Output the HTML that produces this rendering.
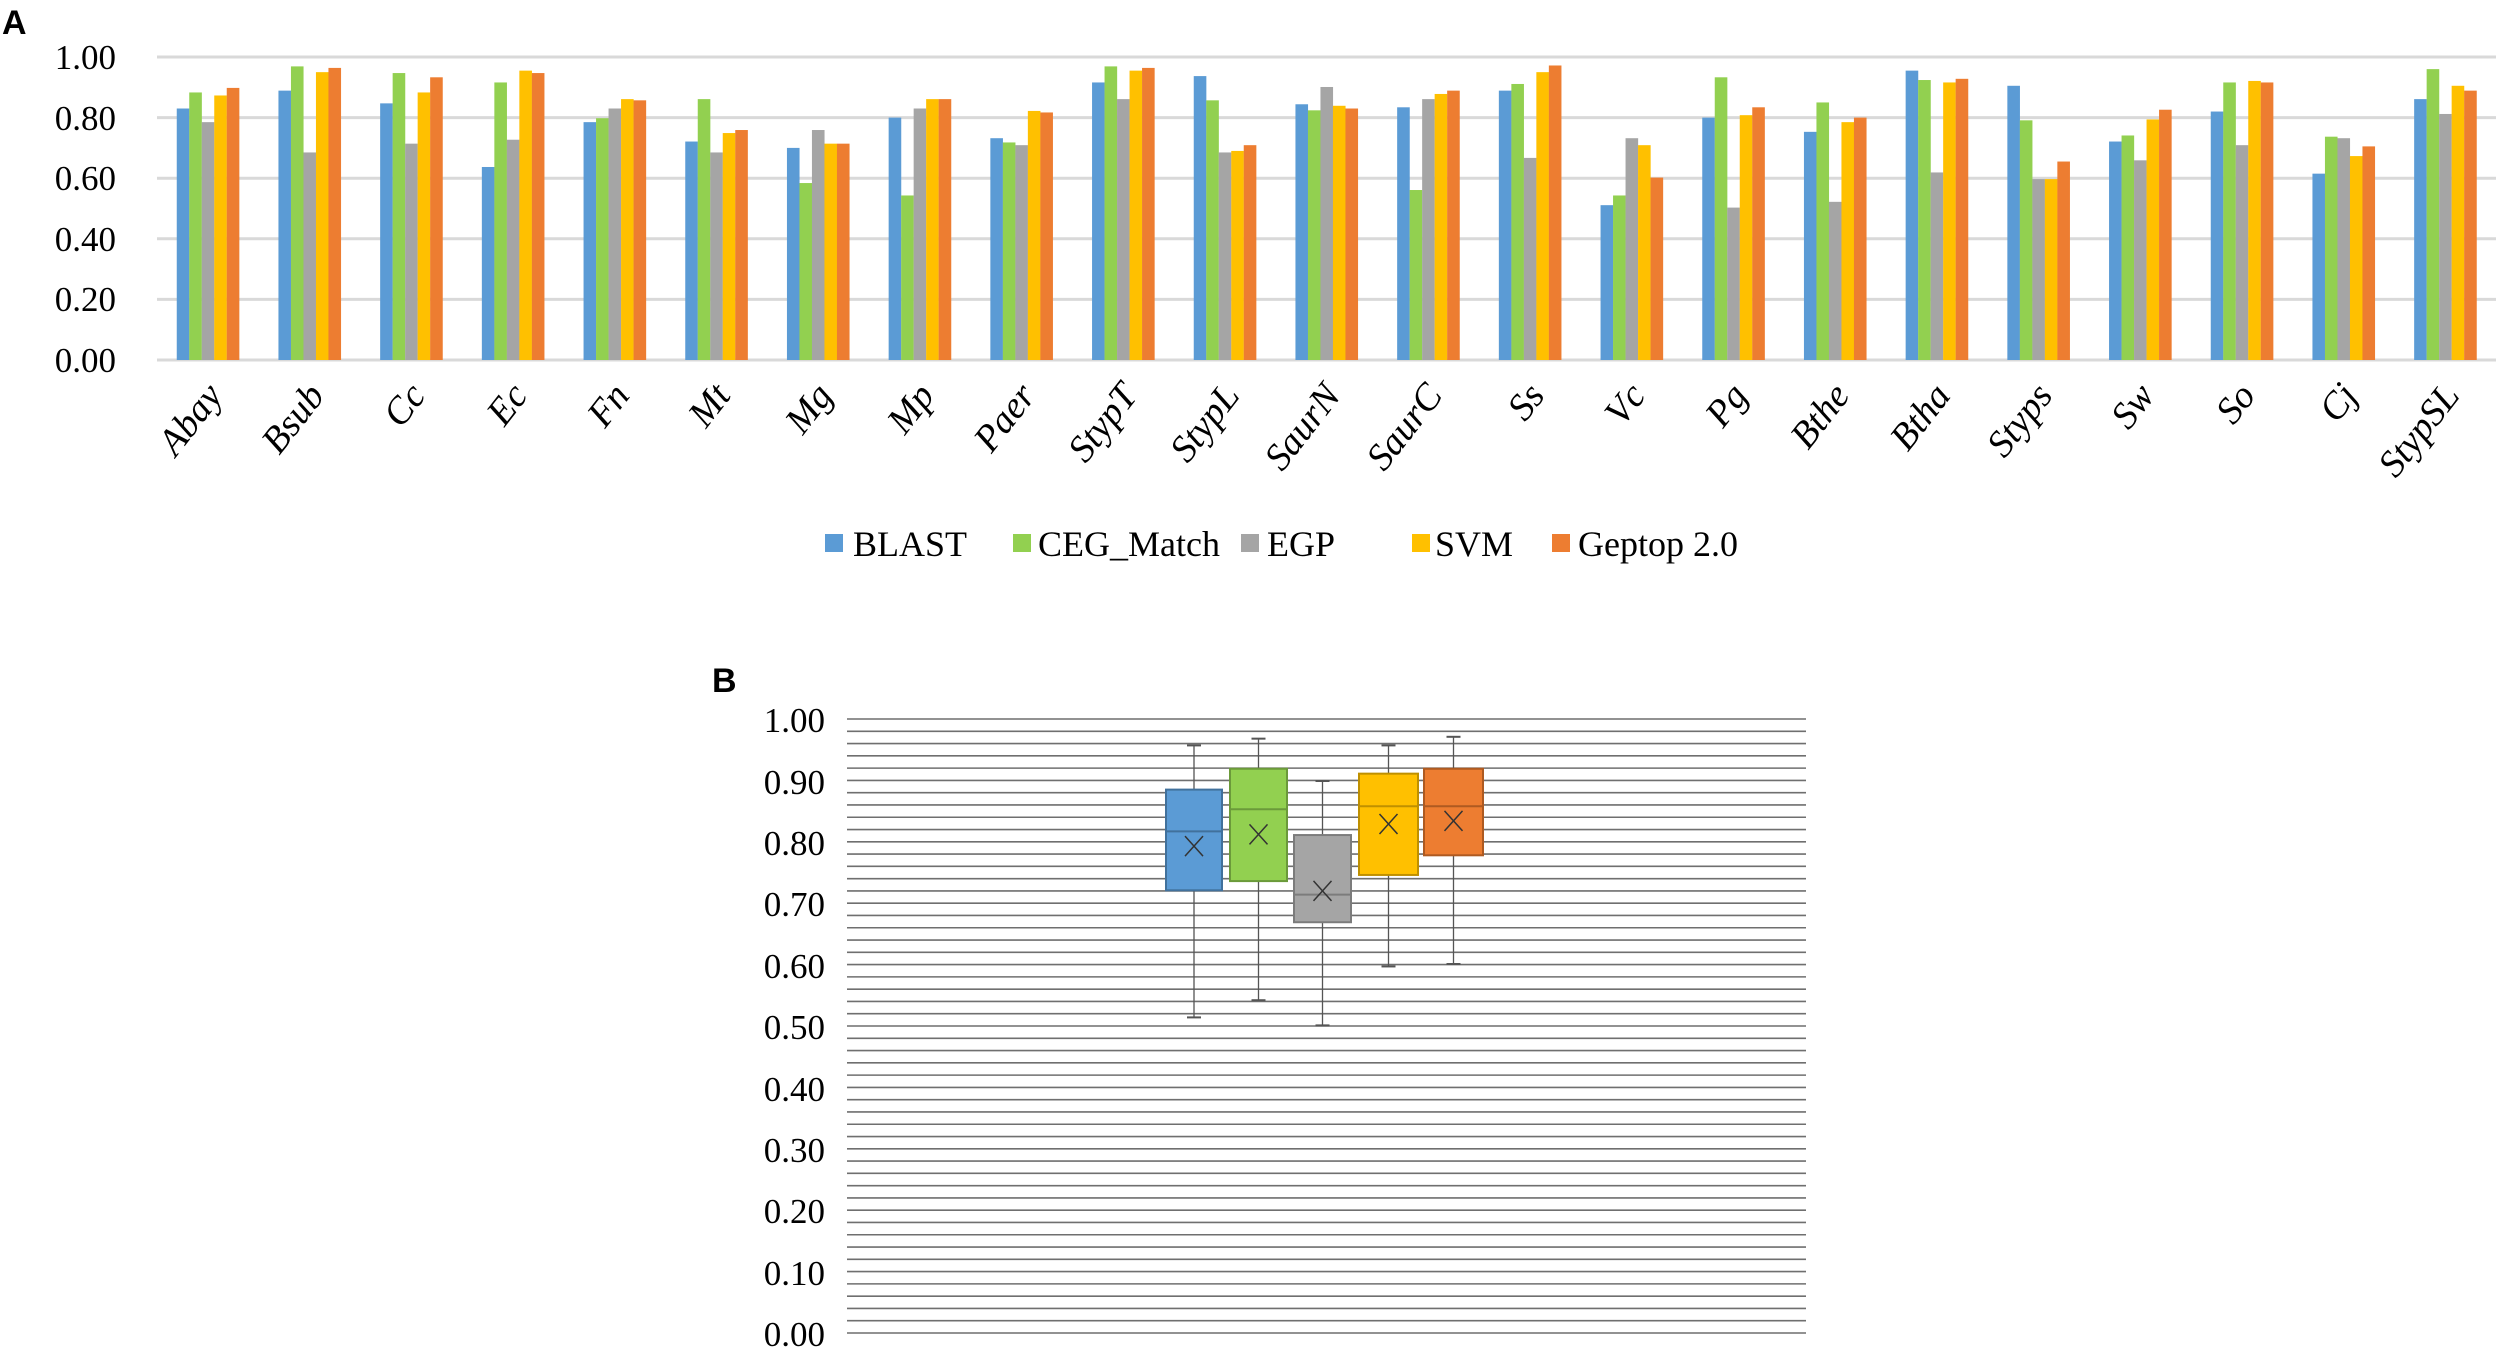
<!DOCTYPE html>
<html><head><meta charset="utf-8"><style>
html,body{margin:0;padding:0;background:#fff;}
svg{display:block;}
text{font-family:"Liberation Serif",serif;fill:#000;}
</style></head><body>
<svg id="s" width="2500" height="1353" viewBox="0 0 2500 1353" xmlns="http://www.w3.org/2000/svg">
<rect width="2500" height="1353" fill="#fff"/>
<text x="2" y="34" style="font-family:'Liberation Sans',sans-serif;font-weight:bold;font-size:34px">A</text>
<text x="712" y="692" style="font-family:'Liberation Sans',sans-serif;font-weight:bold;font-size:34px">B</text>
<g id="gA"></g>
<g font-size="35" text-anchor="end">
<text x="116" y="69">1.00</text>
<text x="116" y="130">0.80</text>
<text x="116" y="190">0.60</text>
<text x="116" y="251">0.40</text>
<text x="116" y="311">0.20</text>
<text x="116" y="372">0.00</text>
</g>
<g id="xl" font-size="38" font-style="italic" text-anchor="end">
<text transform="translate(224,396) rotate(-52)">Abay</text>
<text transform="translate(326,396) rotate(-52)">Bsub</text>
<text transform="translate(427,396) rotate(-52)">Cc</text>
<text transform="translate(529,396) rotate(-52)">Ec</text>
<text transform="translate(631,396) rotate(-52)">Fn</text>
<text transform="translate(732,396) rotate(-52)">Mt</text>
<text transform="translate(834,396) rotate(-52)">Mg</text>
<text transform="translate(936,396) rotate(-52)">Mp</text>
<text transform="translate(1037,396) rotate(-52)">Paer</text>
<text transform="translate(1139,396) rotate(-52)">StypT</text>
<text transform="translate(1241,396) rotate(-52)">StypL</text>
<text transform="translate(1342,396) rotate(-52)">SaurN</text>
<text transform="translate(1444,396) rotate(-52)">SaurC</text>
<text transform="translate(1546,396) rotate(-52)">Ss</text>
<text transform="translate(1647,396) rotate(-52)">Vc</text>
<text transform="translate(1749,396) rotate(-52)">Pg</text>
<text transform="translate(1851,396) rotate(-52)">Bthe</text>
<text transform="translate(1952,396) rotate(-52)">Btha</text>
<text transform="translate(2054,396) rotate(-52)">Styps</text>
<text transform="translate(2156,396) rotate(-52)">Sw</text>
<text transform="translate(2257,396) rotate(-52)">So</text>
<text transform="translate(2359,396) rotate(-52)">Cj</text>
<text transform="translate(2461,396) rotate(-52)">StypSL</text>
</g>
<g font-size="36">
<rect x="825" y="534" width="18" height="18" fill="#5b9bd5"/><text x="853" y="556">BLAST</text>
<rect x="1013" y="534" width="18" height="18" fill="#92d050"/><text x="1038" y="556">CEG_Match</text>
<rect x="1241" y="534" width="18" height="18" fill="#a5a5a5"/><text x="1267" y="556">EGP</text>
<rect x="1412" y="534" width="18" height="18" fill="#ffc000"/><text x="1435" y="556">SVM</text>
<rect x="1552" y="534" width="18" height="18" fill="#ed7d31"/><text x="1578" y="556">Geptop 2.0</text>
</g>
<g id="gB"></g>
<g font-size="35" text-anchor="end">
<text x="825" y="732">1.00</text>
<text x="825" y="794">0.90</text>
<text x="825" y="855">0.80</text>
<text x="825" y="916">0.70</text>
<text x="825" y="978">0.60</text>
<text x="825" y="1039">0.50</text>
<text x="825" y="1101">0.40</text>
<text x="825" y="1162">0.30</text>
<text x="825" y="1223">0.20</text>
<text x="825" y="1285">0.10</text>
<text x="825" y="1346">0.00</text>
</g>
</svg>
<script>
var NS="http://www.w3.org/2000/svg";
function el(p,t,a){var e=document.createElementNS(NS,t);for(var k in a)e.setAttribute(k,a[k]);p.appendChild(e);return e;}
var gA=document.getElementById('gA');
for(var i=0;i<=5;i++){var y=360-i*0.2*303;el(gA,'line',{x1:157,x2:2496,y1:y,y2:y,stroke:'#d9d9d9','stroke-width':3});}
var C=['#5b9bd5','#92d050','#a5a5a5','#ffc000','#ed7d31'];
var D=[[.83,.883,.785,.873,.898],[.889,.969,.685,.95,.964],[.847,.947,.714,.883,.933],[.637,.916,.727,.955,.947],[.785,.798,.83,.861,.857],[.721,.861,.685,.749,.759],[.7,.584,.759,.714,.714],[.8,.543,.83,.861,.861],[.732,.718,.709,.822,.817],[.916,.969,.861,.955,.964],[.937,.857,.685,.69,.709],[.844,.824,.901,.839,.83],[.834,.561,.861,.878,.889],[.889,.911,.667,.95,.972],[.511,.543,.732,.709,.602],[.8,.933,.503,.808,.834],[.753,.85,.522,.785,.8],[.955,.924,.619,.916,.928],[.905,.791,.597,.597,.655],[.721,.741,.659,.794,.826],[.82,.916,.709,.921,.916],[.615,.737,.732,.673,.705],[.861,.96,.812,.905,.889]];
for(var c=0;c<23;c++){var cx=208+c*101.7;for(var s=0;s<5;s++){var v=D[c][s];el(gA,'rect',{x:cx-31.25+s*12.5,y:360-v*303,width:12.6,height:v*303,fill:C[s]});}}
var gB=document.getElementById('gB');
for(var i=0;i<=50;i++){var y=1333-i*0.02*614;el(gB,'line',{x1:847,x2:1806,y1:y,y2:y,stroke:'#6f6f6f','stroke-width':1.6});}
var B=[[1166,1222,.957,.885,.817,.721,.514,.793],[1230,1287,.968,.919,.853,.736,.542,.812],[1294,1351,.899,.811,.714,.669,.501,.72],[1359,1418,.957,.911,.858,.746,.597,.829],[1424,1483,.971,.919,.858,.778,.601,.834]];
var BD=['#41719c','#6b9a3a','#7c7c7c','#bf9000','#ae5a21'];
function Y(v){return 1333-v*614;}
for(var k=0;k<5;k++){var b=B[k],m=(b[0]+b[1])/2;
el(gB,'line',{x1:m,x2:m,y1:Y(b[2]),y2:Y(b[6]),stroke:'#555','stroke-width':1.3});
el(gB,'line',{x1:m-7,x2:m+7,y1:Y(b[2]),y2:Y(b[2]),stroke:'#555','stroke-width':2});
el(gB,'line',{x1:m-7,x2:m+7,y1:Y(b[6]),y2:Y(b[6]),stroke:'#555','stroke-width':2});
el(gB,'rect',{x:b[0],y:Y(b[3]),width:b[1]-b[0],height:Y(b[5])-Y(b[3]),fill:C[k],stroke:BD[k],'stroke-width':2});
el(gB,'line',{x1:b[0],x2:b[1],y1:Y(b[4]),y2:Y(b[4]),stroke:BD[k],'stroke-width':2});
var my=Y(b[7]);el(gB,'path',{d:'M'+(m-9)+' '+(my-10)+'L'+(m+9)+' '+(my+10)+'M'+(m+9)+' '+(my-10)+'L'+(m-9)+' '+(my+10),stroke:'#333','stroke-width':1.5,fill:'none'});}
</script>
</body></html>
